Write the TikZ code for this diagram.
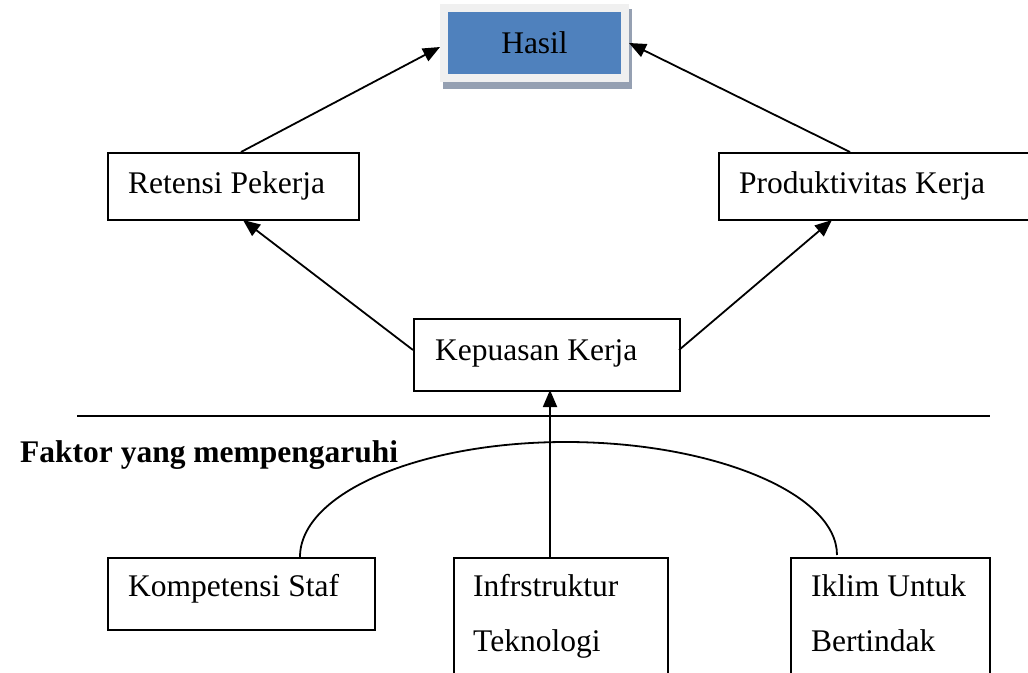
\documentclass[tikz,border=0pt]{standalone}
\usepackage{fontspec}
\setmainfont{Liberation Serif}
\usetikzlibrary{arrows.meta}
\definecolor{hasilblue}{HTML}{4F81BD}
\definecolor{framegray}{HTML}{F0F0F0}
\definecolor{shadowgray}{HTML}{95A0B2}
\begin{document}
\begin{tikzpicture}[x=1pt,y=-1pt,
  box/.style={draw=black, line width=1.8pt, rectangle, inner sep=0pt, anchor=north west},
  lbl/.style={anchor=base west, inner sep=0pt, font=\fontsize{31.5}{37}\selectfont},
  conn/.style={line width=1.8pt, -{Triangle[length=17pt,width=14pt]}},
  plain/.style={line width=1.8pt}]
\useasboundingbox (0,0) rectangle (1028,672);
% Hasil
\fill[shadowgray] (443,9) rectangle (632,89);
\node[draw=framegray, fill=hasilblue, line width=8pt, minimum width=181, minimum height=70, inner sep=0pt,
  font=\fontsize{31.5}{37}\selectfont] (hasil) at (534.5,43) {Hasil};
% boxes
\node[box, minimum width=251, minimum height=67] (ret) at (107,152) {};
\node[lbl] at (128,193) {Retensi Pekerja};
\node[box, minimum width=310, minimum height=67] (prod) at (718,152) {};
\node[lbl] at (739,193) {Produktivitas Kerja};
\node[box, minimum width=266, minimum height=72] (kep) at (413,318) {};
\node[lbl] at (435,360) {Kepuasan Kerja};
\node[box, minimum width=267, minimum height=72] (komp) at (107,557) {};
\node[lbl] at (128,596) {Kompetensi Staf};
\node[box, minimum width=214, minimum height=150] (infra) at (453,557) {};
\node[lbl] at (473,596) {Infrstruktur};
\node[lbl] at (473,651) {Teknologi};
\node[box, minimum width=199, minimum height=150] (iklim) at (790,557) {};
\node[lbl] at (811,596) {Iklim Untuk};
\node[lbl] at (811,651) {Bertindak};
% separator and heading
\coordinate (sepL) at (77,416);
\coordinate (sepR) at (990,416);
\draw[plain] (sepL) -- (sepR);
\node[lbl, font=\fontsize{31.5}{37}\selectfont\bfseries] (faktor) at (20,462) {Faktor yang mempengaruhi};
% connectors
\coordinate (retTop) at (241,152);
\coordinate (prodTop) at (850,152);
\coordinate (kepL) at (413,350);
\coordinate (kepR) at (679,350);
\coordinate (retBot) at (243,220);
\coordinate (prodBot) at (832,220);
\coordinate (infTop) at (550,557);
\coordinate (kepBot) at (550,390);
\draw[conn] (retTop) -- (hasil.west |- 0,47);
\draw[conn] (prodTop) -- (hasil.east |- 0,43);
\draw[conn] (kepL) -- (retBot);
\draw[conn] (kepR) -- (prodBot);
\draw[conn] (infTop) -- (kepBot);
% arc
\coordinate (arcL) at (300,557);
\coordinate (arcR) at (837,555);
\draw[plain] (arcL) .. controls (300,493) and (420,442) .. (566,442)
  .. controls (712,442) and (837,493) .. (arcR);
\end{tikzpicture}
\end{document}
